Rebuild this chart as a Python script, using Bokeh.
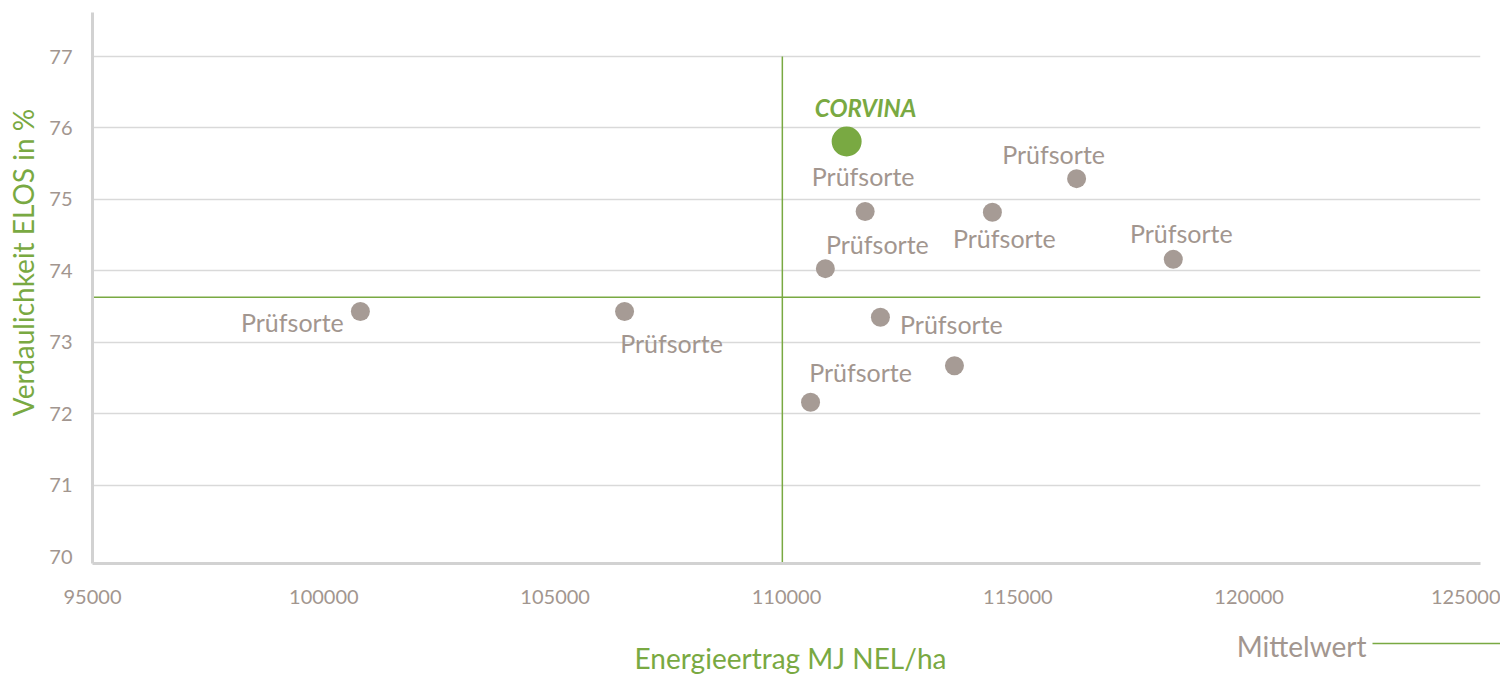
import math
from bokeh.plotting import figure
from bokeh.layouts import row, column
from bokeh.models import ColumnDataSource, FixedTicker
from bokeh.core.properties import value
from bokeh.embed import file_html
from bokeh.resources import INLINE

# ---- data ----
x_ticks = [95000, 100000, 105000, 110000, 115000, 120000, 125000]
x_tick_labels = ["95000", "100000", "105000", "110000", "115000", "120000", "125000"]
y_ticks = [70, 71, 72, 73, 74, 75, 76, 77]
y_tick_labels = ["70", "71", "72", "73", "74", "75", "76", "77"]

corvina_name = ["CORVINA"]
corvina_x = [111300]
corvina_y = [75.81]

sorte_x = [111700, 110840, 114450, 116270, 118360, 100790, 106500, 112030, 113630, 110520]
sorte_y = [74.83, 74.03, 74.82, 75.29, 74.16, 73.43, 73.43, 73.35, 72.67, 72.16]
sorte_names = ["Prüfsorte", "Prüfsorte", "Prüfsorte", "Prüfsorte", "Prüfsorte",
               "Prüfsorte", "Prüfsorte", "Prüfsorte", "", "Prüfsorte"]

mean_x = 109910
mean_y = 73.63

x_title = "Energieertrag MJ NEL/ha"
y_title = "Verdaulichkeit ELOS in %"
legend_text = "Mittelwert"

# ---- label placement (screen px offsets) ----
label_dx = [-2, 52, 12, -23, 8, -68, 47, 71, 0, 50]
label_dy = [-36, -25, 26, -25, -26, 10, 31, 7, 0, -30]

GREEN = "#79a942"
GRAY_TXT = "#a2968f"
GRAY_PT = "#a69b95"
FONT = "Lato"


def bare(fig):
    fig.outline_line_color = None
    fig.xgrid.grid_line_color = None
    fig.ygrid.grid_line_color = None
    fig.background_fill_color = "white"
    fig.border_fill_color = "white"
    return fig


# ---- main plot ----
p = figure(width=1460, height=620, output_backend="svg", toolbar_location=None,
           x_range=(95000, 125000), y_range=(69.902, 77.616),
           min_border_left=52, min_border_right=20, min_border_top=12, min_border_bottom=57)
p.outline_line_color = None
p.background_fill_color = "white"
p.border_fill_color = "white"

for ax in (p.xaxis[0], p.yaxis[0]):
    ax.axis_line_color = "#d2d2d2"
    ax.axis_line_width = 3
    ax.major_tick_line_color = None
    ax.minor_tick_line_color = None
    ax.major_label_text_color = GRAY_TXT
    ax.major_label_text_font = FONT
    ax.major_label_text_font_size = "20px"
p.xaxis.ticker = FixedTicker(ticks=x_ticks)
p.xaxis.major_label_overrides = {t: l for t, l in zip(x_ticks, x_tick_labels)}
p.xaxis.major_label_standoff = 20
p.yaxis.ticker = FixedTicker(ticks=y_ticks)
p.yaxis.major_label_overrides = {t: l for t, l in zip(y_ticks, y_tick_labels)}
p.yaxis.major_label_standoff = 14

p.xgrid.grid_line_color = None
p.ygrid.ticker = FixedTicker(ticks=y_ticks[1:])
p.ygrid.grid_line_color = "#d9d9d9"
p.ygrid.grid_line_width = 1.5

# mean lines
p.line([95000, 125000], [mean_y, mean_y], line_color=GREEN, line_width=1.5)
p.line([mean_x, mean_x], [77, 69.0], line_color=GREEN, line_width=1.5)

# points
src = ColumnDataSource(dict(x=sorte_x, y=sorte_y, name=sorte_names, dx=label_dx, dy=label_dy))
p.scatter("x", "y", source=src, size=19, fill_color=GRAY_PT, line_color=None)
p.text("x", "y", text="name", source=src, x_offset="dx", y_offset="dy",
       text_align="center", text_baseline="middle", text_color=GRAY_TXT,
       text_font=value(FONT), text_font_size="25px")

csrc = ColumnDataSource(dict(x=corvina_x, y=corvina_y, name=corvina_name))
p.scatter("x", "y", source=csrc, size=30, fill_color=GREEN, line_color=None)
p.text("x", "y", text="name", source=csrc, x_offset=19, y_offset=-34,
       text_align="center", text_baseline="middle", text_color=GREEN,
       text_font=value(FONT), text_font_size="24px", text_font_style="bold italic")

# ---- left strip: y title (page-pixel coordinates; its frame is aligned with the main frame) ----
left = bare(figure(width=40, height=620, output_backend="svg", toolbar_location=None,
                   x_range=(0, 40), y_range=(563, 12), x_axis_type=None, y_axis_type=None,
                   min_border=0))
left.text(x=[22], y=[262], text=[y_title], angle=math.pi / 2,
          text_align="center", text_baseline="middle", text_color=GREEN,
          text_font=value(FONT), text_font_size="28px")

# ---- bottom strip: x title and legend (page-pixel coordinates) ----
bottom = bare(figure(width=1500, height=55, output_backend="svg", toolbar_location=None,
                     x_range=(0, 1500), y_range=(675, 620), x_axis_type=None, y_axis_type=None,
                     min_border=0))
bottom.text(x=[790], y=[657], text=[x_title], text_align="center", text_baseline="middle",
            text_color=GREEN, text_font=value(FONT), text_font_size="28px")
bottom.text(x=[1366], y=[645], text=[legend_text], text_align="right", text_baseline="middle",
            text_color=GRAY_TXT, text_font=value(FONT), text_font_size="28px")
bottom.line([1372, 1500], [643, 643], line_color=GREEN, line_width=1.5)

layout = column(row(left, p, spacing=0), bottom, spacing=0)
open("out.html", "w").write(file_html(layout, INLINE))
